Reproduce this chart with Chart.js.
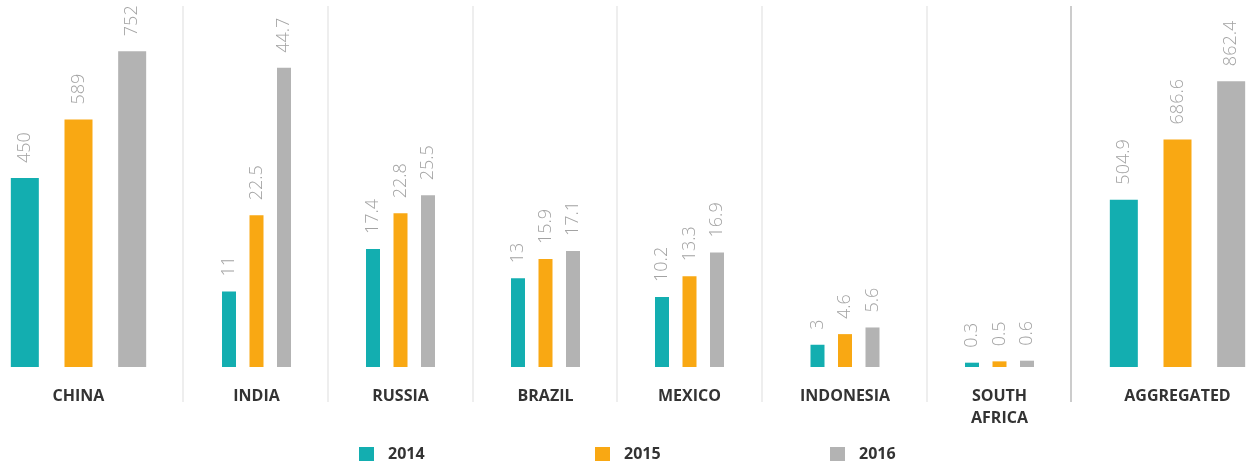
<!DOCTYPE html>
<html>
<head>
<meta charset="utf-8">
<script src="https://cdn.jsdelivr.net/npm/chart.js@4.4.0/dist/chart.umd.min.js"></script>
<style>
html,body{margin:0;padding:0;background:#ffffff;}
body{width:1247px;height:466px;overflow:hidden;position:relative;font-family:"Open Sans",sans-serif;}
.panel{position:absolute;top:0;height:430px;}
.sep{position:absolute;top:6px;height:396px;width:2px;background:#eeeeee;}
.sep.strong{background:#cccccc;}
.lg{position:absolute;top:445px;height:18px;}
.lg .sw{position:absolute;left:0;top:2px;width:15px;height:14px;}
.lg .tx{position:absolute;left:29px;top:-3px;font-size:16px;font-weight:700;color:#333333;line-height:22px;white-space:nowrap;}
</style>
</head>
<body>
<script>
// ---------- DATA ----------
const categories = ['CHINA', 'INDIA', 'RUSSIA', 'BRAZIL', 'MEXICO', 'INDONESIA', ['SOUTH', 'AFRICA'], 'AGGREGATED'];
const years = ['2014', '2015', '2016'];
const values2014 = [450, 11, 17.4, 13, 10.2, 3, 0.3, 504.9];
const values2015 = [589, 22.5, 22.8, 15.9, 13.3, 4.6, 0.5, 686.6];
const values2016 = [752, 44.7, 25.5, 17.1, 16.9, 5.6, 0.6, 862.4];
const series = [values2014, values2015, values2016];

// ---------- SCALES / LAYOUT ----------
const scaleGroup = [0, 1, 1, 1, 1, 1, 1, 2];
const scaleMin = [0, -0.35, 0];
const scaleMax = [850, 53.4, 1077];
const colors = ['#13aeb0', '#f9a813', '#b3b3b3'];
const panelCenter = [78.5, 256.5, 400.5, 545.5, 689.5, 845, 999.5, 1177.5];
const panelWidth = [161, 145, 145, 145, 145, 160, 145, 161];
const barPitch = [53.67, 27.5, 27.5, 27.5, 27.5, 27.5, 27.5, 53.67];
const barWidth = [28, 14, 14, 14, 14, 14, 14, 28];
const separators = [183, 328, 473, 617, 762, 927];
const strongSeparator = 1071;

const valueLabels = {
  id: 'valueLabels',
  afterDatasetsDraw(chart) {
    const ctx = chart.ctx;
    ctx.save();
    ctx.font = '300 18px "Open Sans"';
    ctx.fillStyle = '#a3a3a3';
    ctx.textAlign = 'left';
    ctx.textBaseline = 'middle';
    chart.data.datasets.forEach((ds, di) => {
      const meta = chart.getDatasetMeta(di);
      meta.data.forEach((bar, j) => {
        const v = ds.data[j];
        if (v === null || v === undefined) return;
        ctx.save();
        ctx.translate(bar.x, bar.y - 15);
        ctx.rotate(-Math.PI / 2);
        ctx.fillText(String(v), 0, 0);
        ctx.restore();
      });
    });
    ctx.restore();
  }
};

categories.forEach((cat, i) => {
  const w = panelWidth[i];
  const div = document.createElement('div');
  div.className = 'panel';
  div.style.left = (panelCenter[i] - w / 2) + 'px';
  div.style.width = w + 'px';
  const canvas = document.createElement('canvas');
  canvas.width = w;
  canvas.height = 430;
  canvas.style.width = w + 'px';
  canvas.style.height = '430px';
  div.appendChild(canvas);
  document.body.appendChild(div);
  const g = scaleGroup[i];
  new Chart(canvas.getContext('2d'), {
    type: 'bar',
    data: {
      labels: [cat],
      datasets: years.map((y, k) => ({
        label: y,
        data: [series[k][i]],
        backgroundColor: colors[k],
        borderWidth: 0,
        base: scaleMin[g],
        categoryPercentage: barPitch[i] * 3 / w,
        barPercentage: barWidth[i] / barPitch[i]
      }))
    },
    options: {
      responsive: false,
      animation: false,
      layout: { padding: { top: 10, left: 0, right: 0, bottom: 0 } },
      plugins: { legend: { display: false }, tooltip: { enabled: false } },
      scales: {
        x: {
          grid: { display: false, drawTicks: false },
          border: { display: false },
          ticks: {
            color: '#333333',
            font: { family: '"Open Sans"', size: 16, weight: 'bold', lineHeight: 1.375 },
            padding: 18,
            maxRotation: 0,
            minRotation: 0,
            autoSkip: false
          },
          afterFit(scale) { scale.height = 63; }
        },
        y: { display: false, min: scaleMin[g], max: scaleMax[g] }
      }
    },
    plugins: [valueLabels]
  });
});

separators.forEach(x => {
  const d = document.createElement('div');
  d.className = 'sep';
  d.style.left = (x - 1) + 'px';
  document.body.appendChild(d);
});
(function () {
  const d = document.createElement('div');
  d.className = 'sep strong';
  d.style.left = (strongSeparator - 1) + 'px';
  document.body.appendChild(d);
})();

const legendLeft = [359, 595, 830];
years.forEach((y, k) => {
  const d = document.createElement('div');
  d.className = 'lg';
  d.style.left = legendLeft[k] + 'px';
  const sw = document.createElement('span');
  sw.className = 'sw';
  sw.style.background = colors[k];
  const tx = document.createElement('span');
  tx.className = 'tx';
  tx.textContent = y;
  d.appendChild(sw);
  d.appendChild(tx);
  document.body.appendChild(d);
});
</script>
</body>
</html>
